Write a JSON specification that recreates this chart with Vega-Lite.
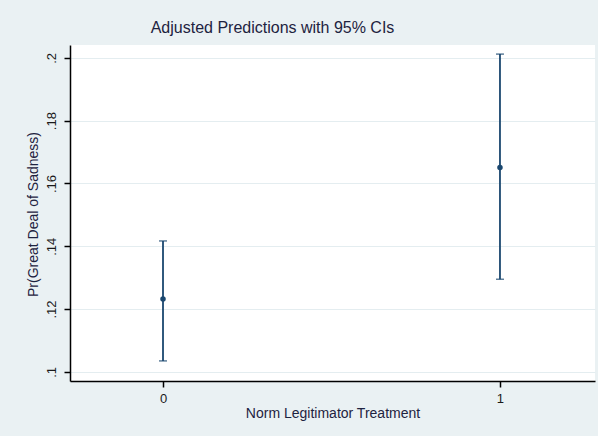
{
  "$schema": "https://vega.github.io/schema/vega-lite/v6.json",
  "width": 525,
  "height": 336,
  "autosize": {"type": "none"},
  "padding": {"left": 70, "top": 45, "right": 3, "bottom": 55},
  "background": "#eaf1f3",
  "config": {
    "view": {"fill": "#ffffff", "stroke": null},
    "font": "Liberation Sans"
  },
  "title": {
    "text": "Adjusted Predictions with 95% CIs",
    "font": "Liberation Sans",
    "fontSize": 16,
    "fontWeight": "normal",
    "color": "#1e2340",
    "anchor": "middle",
    "frame": "group",
    "baseline": "alphabetic",
    "dx": -60,
    "dy": 15,
    "offset": 11
  },
  "data": {
    "values": [
      {"treat": 0, "margin": 0.1232, "lo": 0.1035, "hi": 0.1417},
      {"treat": 1, "margin": 0.1651, "lo": 0.1295, "hi": 0.2012}
    ]
  },
  "encoding": {
    "x": {
      "field": "treat",
      "type": "quantitative",
      "scale": {"domain": [-0.276, 1.282], "nice": false, "zero": false},
      "axis": {
        "title": "Norm Legitimator Treatment",
        "values": [0, 1],
        "format": "d",
        "grid": false,
        "domainColor": "#000000",
        "domainWidth": 1.5,
        "tickColor": "#000000",
        "tickWidth": 1.5,
        "tickSize": 6,
        "labelPadding": 5,
        "labelFontSize": 13,
        "labelColor": "#1a1a1a",
        "titleFontSize": 14,
        "titleFontWeight": "normal",
        "titleColor": "#1e2340",
        "titleBaseline": "alphabetic",
        "titleY": 36
      }
    },
    "y": {
      "field": "margin",
      "type": "quantitative",
      "scale": {"domain": [0.0971, 0.2041], "nice": false, "zero": false},
      "axis": {
        "title": "Pr(Great Deal of Sadness)",
        "values": [0.1, 0.12, 0.14, 0.16, 0.18, 0.2],
        "labelExpr": "replace(format(datum.value, '.2~f'), /^0/, '')",
        "grid": true,
        "gridColor": "#e4edf0",
        "gridWidth": 1,
        "domainColor": "#000000",
        "domainWidth": 1.5,
        "tickColor": "#000000",
        "tickWidth": 1.5,
        "tickSize": 6,
        "labelAngle": -90,
        "labelAlign": "center",
        "labelBaseline": "alphabetic",
        "labelPadding": 9,
        "labelFontSize": 13,
        "labelColor": "#1a1a1a",
        "titleFontSize": 14,
        "titleFontWeight": "normal",
        "titleColor": "#1e2340",
        "titleAngle": -90,
        "titleBaseline": "middle",
        "titleX": -37,
        "titleY": 169
      }
    }
  },
  "layer": [
    {
      "mark": {"type": "rule", "color": "#1a476f", "strokeWidth": 1.8},
      "encoding": {"y": {"field": "lo", "type": "quantitative"}, "y2": {"field": "hi"}}
    },
    {
      "mark": {"type": "tick", "orient": "horizontal", "color": "#1a476f", "size": 8, "thickness": 1.5},
      "encoding": {"y": {"field": "lo", "type": "quantitative"}}
    },
    {
      "mark": {"type": "tick", "orient": "horizontal", "color": "#1a476f", "size": 8, "thickness": 1.5},
      "encoding": {"y": {"field": "hi", "type": "quantitative"}}
    },
    {
      "mark": {"type": "point", "filled": true, "opacity": 1, "color": "#1a476f", "size": 30}
    }
  ]
}
